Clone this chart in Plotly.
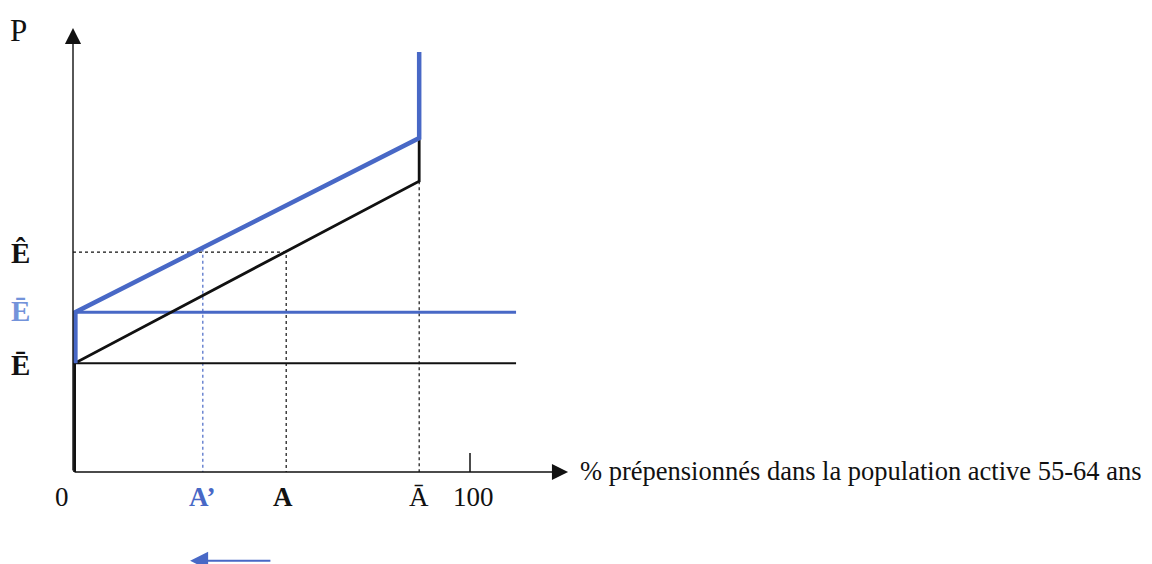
"""Pre-retirement share diagram: two price schedules with entry thresholds."""

import plotly.graph_objects as go

# --- values (x in %, y in arbitrary P units) ---
x_A_prime = 32.7
x_A = 53.7
x_A_bar = 87.2
x_100 = 100
x_end = 111.6

E_bar_black = 24.5
E_bar_blue = 36.0
E_hat = 49.5

black_x = [0.4, 0.4, x_A_bar, x_A_bar]
black_y = [0.0, E_bar_black, 65.5, 74.8]
blue_x = [0.6, 0.6, x_A_bar, x_A_bar]
blue_y = [E_bar_black, E_bar_blue, 75.2, 94.6]

x_tick_labels = ["0", "A’", "A", "Ā", "100"]
y_tick_labels = ["Ê", "Ē", "Ē"]
x_title = "% prépensionnés dans la population active 55-64 ans"

BLUE = "#4868c6"
BLUE_LIGHT = "#7393da"
BLACK = "#111111"
FONT = "Liberation Serif"

# pixel mapping (page body has an 8px margin)
PX_X0, PX_Y0 = 65, 464
SX, SY = 3.97, 4.44
W, H = 1152, 564
x_range = [-PX_X0 / SX, (W - PX_X0) / SX]
y_range = [-(H - PX_Y0) / SY, PX_Y0 / SY]

fig = go.Figure()

# dotted guides
fig.add_trace(go.Scatter(x=[0, x_A, x_A], y=[E_hat, E_hat, 0], mode="lines",
                         line=dict(color=BLACK, width=1.2, dash="dot"), hoverinfo="skip"))
fig.add_trace(go.Scatter(x=[x_A_prime, x_A_prime], y=[E_hat + 0.8, 0], mode="lines",
                         line=dict(color=BLUE, width=1.2, dash="dot"), hoverinfo="skip"))
fig.add_trace(go.Scatter(x=[x_A_bar, x_A_bar], y=[65.5, 0], mode="lines",
                         line=dict(color=BLACK, width=1.2, dash="dot"), hoverinfo="skip"))

# horizontal thresholds
fig.add_trace(go.Scatter(x=[0, x_end], y=[E_bar_black, E_bar_black], mode="lines",
                         line=dict(color=BLACK, width=2), hoverinfo="skip"))
fig.add_trace(go.Scatter(x=[0.6, x_end], y=[E_bar_blue, E_bar_blue], mode="lines",
                         line=dict(color=BLUE, width=3), hoverinfo="skip"))

# schedules
fig.add_trace(go.Scatter(x=black_x, y=black_y, mode="lines",
                         line=dict(color=BLACK, width=2.8), hoverinfo="skip"))
fig.add_trace(go.Scatter(x=blue_x, y=blue_y, mode="lines",
                         line=dict(color=BLUE, width=4.5), hoverinfo="skip"))

# tick at 100
fig.add_trace(go.Scatter(x=[x_100, x_100], y=[0, 4.3], mode="lines",
                         line=dict(color=BLACK, width=1.5), hoverinfo="skip"))

# axes with arrows
fig.add_annotation(x=0, y=100, ax=0, ay=0, xref="x", yref="y", axref="x", ayref="y",
                   showarrow=True, arrowhead=2, arrowsize=2.3, arrowwidth=1.4,
                   arrowcolor=BLACK, text="")
fig.add_annotation(x=124.7, y=0, ax=0, ay=0, xref="x", yref="y", axref="x", ayref="y",
                   showarrow=True, arrowhead=2, arrowsize=2.3, arrowwidth=1.4,
                   arrowcolor=BLACK, text="")
# shift arrow A -> A'
fig.add_annotation(x=29.5, y=-20.0, ax=50.1, ay=-20.0, xref="x", yref="y", axref="x", ayref="y",
                   showarrow=True, arrowhead=2, arrowsize=1.8, arrowwidth=2,
                   arrowcolor=BLUE, text="")


def label(x, y, text, color=BLACK, size=27, bold=False, xanchor="center"):
    t = f"<b>{text}</b>" if bold else text
    fig.add_annotation(x=x, y=y, xref="x", yref="y", text=t, showarrow=False,
                       xanchor=xanchor, yanchor="middle",
                       font=dict(family=FONT, size=size, color=color))


label(-13.85, 99.5, "P", size=31)
label(-13.35, 49.3, y_tick_labels[0], size=29, bold=True)
label(-13.35, 36.3, y_tick_labels[1], size=29, color=BLUE_LIGHT, bold=True)
label(-13.35, 24.1, y_tick_labels[2], size=29, bold=True)

label(-2.77, -5.6, x_tick_labels[0])
label(x_A_prime, -5.6, x_tick_labels[1], color=BLUE, bold=True)
label(52.9, -5.6, x_tick_labels[2], bold=True)
label(x_A_bar, -5.6, x_tick_labels[3])
label(100.8, -5.6, x_tick_labels[4])
label(127.2, 0.3, x_title, size=26.5, xanchor="left")

fig.update_layout(
    width=W, height=H,
    margin=dict(l=0, r=0, t=0, b=0),
    paper_bgcolor="white", plot_bgcolor="white",
    showlegend=False,
    xaxis=dict(range=x_range, visible=False, fixedrange=True),
    yaxis=dict(range=y_range, visible=False, fixedrange=True),
)

fig.write_html("out.html")
